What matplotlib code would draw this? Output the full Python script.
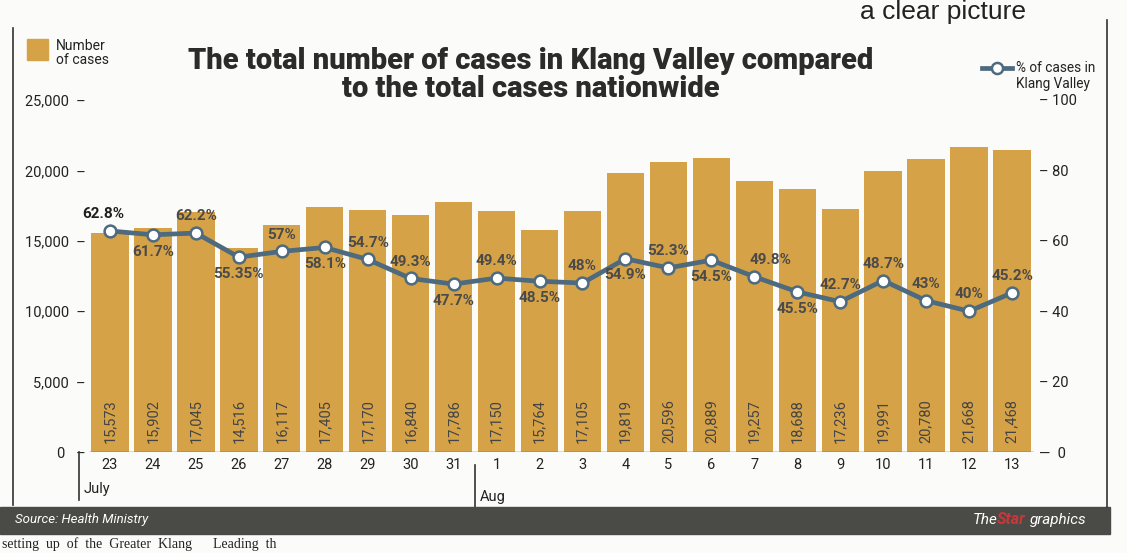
import matplotlib.pyplot as plt
from matplotlib.patches import Rectangle
from matplotlib.lines import Line2D

# Data
days = ["23", "24", "25", "26", "27", "28", "29", "30", "31",
        "1", "2", "3", "4", "5", "6", "7", "8", "9", "10", "11", "12", "13"]
cases = [15573, 15902, 17045, 14516, 16117, 17405, 17170, 16840, 17786,
         17150, 15764, 17105, 19819, 20596, 20889, 19257, 18688, 17236,
         19991, 20780, 21668, 21468]
pct = [62.8, 61.7, 62.2, 55.35, 57, 58.1, 54.7, 49.3, 47.7, 49.4, 48.5,
       48, 54.9, 52.3, 54.5, 49.8, 45.5, 42.7, 48.7, 43, 40, 45.2]
pct_labels = ["62.8%", "61.7%", "62.2%", "55.35%", "57%", "58.1%", "54.7%",
              "49.3%", "47.7%", "49.4%", "48.5%", "48%", "54.9%", "52.3%",
              "54.5%", "49.8%", "45.5%", "42.7%", "48.7%", "43%", "40%", "45.2%"]

# label placement: a = above, b = below
label_side = "abababaabababababaaaaa"

BAR = "#d6a247"
LINE = "#4d6a7e"
BG = "#fbfbf9"
W, H = 1127, 553


def fx(px):
    return px / W


def fy(py):
    return 1 - py / H


fig = plt.figure(figsize=(W / 100, H / 100), dpi=100, facecolor=BG)
plt.rcParams["font.family"] = ["Roboto", "DejaVu Sans"]

ax = fig.add_axes([fx(88.5), fy(452), fx(945), 352 / H])
ax.set_facecolor("none")
x = list(range(len(cases)))
ax.bar(x, cases, width=0.87, color=BAR, edgecolor="none", zorder=1)
ax.set_xlim(-0.5, len(cases) - 0.5)
ax.set_ylim(0, 25000)
for s in ax.spines.values():
    s.set_visible(False)
ax.axhline(0, color="#555555", lw=1.0, zorder=3)

ax.set_yticks([0, 5000, 10000, 15000, 20000, 25000])
ax.set_yticklabels(["0   –", "5,000  –", "10,000  –", "15,000  –",
                    "20,000  –", "25,000  –"], fontsize=10.5, color="#222222")
ax.tick_params(axis="y", length=0, pad=2)
ax.set_xticks(x)
ax.set_xticklabels(days, fontsize=10.5, color="#222222")
ax.tick_params(axis="x", length=0, pad=4)

# bar values
for xi, v in zip(x, cases):
    ax.text(xi, 650, f"{v:,}", rotation=90, ha="center", va="bottom",
            fontsize=10.5, color="#444444", zorder=4)

# month separators
ax.plot([-0.72, -0.72], [0, -3400], color="#333333", lw=1.2, clip_on=False)
ax.plot([8.5, 8.5], [-900, -4000], color="#333333", lw=1.2, clip_on=False)
ax.text(-0.62, -2600, "July", fontsize=10.5, color="#222222", va="center")
ax.text(8.6, -3200, "Aug", fontsize=10.5, color="#222222", va="center")

# percentage line
ax2 = ax.twinx()
ax2.set_ylim(0, 100)
for s in ax2.spines.values():
    s.set_visible(False)
ax2.set_yticks([0, 20, 40, 60, 80, 100])
ax2.set_yticklabels(["—  0", "– 20", "– 40", "– 60", "– 80", "– 100"],
                    fontsize=10.5, color="#222222")
ax2.tick_params(axis="y", length=0, pad=4)
ax2.plot(x, pct, color=LINE, lw=3.4, marker="o", ms=8.5,
         mfc="white", mec=LINE, mew=1.8, zorder=5)
for xi, p, lab, side in zip(x, pct, pct_labels, label_side):
    dx = 0
    if xi == 0:
        dx = -5
    if lab == "49.8%":
        dx = 12
    if side == "a":
        ax2.annotate(lab, (xi, p), xytext=(dx, 7), textcoords="offset points",
                     ha="center", va="bottom", fontsize=11, fontweight="bold",
                     color="#1e1e1e" if xi == 0 else "#4a4a4a", zorder=6)
    else:
        ax2.annotate(lab, (xi, p), xytext=(dx, -7), textcoords="offset points",
                     ha="center", va="top", fontsize=11, fontweight="bold",
                     color="#4a4a4a", zorder=6)

# title
fig.text(fx(531), fy(75), "The total number of cases in Klang Valley compared\n"
         "to the total cases nationwide", ha="center", va="center",
         fontsize=21, fontweight="black", family="Roboto",
         color="#2b2b2b", linespacing=1.0)

# left legend
fig.patches.append(Rectangle((fx(27), fy(60)), fx(21), 21 / H,
                             transform=fig.transFigure, color=BAR))
fig.text(fx(56), fy(53), "Number\nof cases", fontsize=10, color="#222222",
         va="center", linespacing=1.0)

# right legend
fig.lines.append(Line2D([fx(982), fx(1012)], [fy(68), fy(68)],
                        transform=fig.transFigure, color=LINE, lw=3.4))
fig.lines.append(Line2D([fx(997)], [fy(68)], transform=fig.transFigure,
                        marker="o", ms=8, mfc="white", mec=LINE, mew=1.8,
                        color=LINE))
fig.text(fx(1016), fy(76), "% of cases in\nKlang Valley", fontsize=9.8,
         color="#222222", va="center", linespacing=1.1)

# frame lines
fig.lines.append(Line2D([fx(13), fx(13)], [fy(28), fy(505)],
                        transform=fig.transFigure, color="#333333", lw=1.2))
fig.lines.append(Line2D([fx(1107), fx(1107)], [fy(20), fy(507)],
                        transform=fig.transFigure, color="#333333", lw=1.2))

# footer band
fig.patches.append(Rectangle((0, fy(534)), fx(1110), 27 / H,
                             transform=fig.transFigure, color="#4a4a46"))
fig.text(fx(15), fy(520), "Source: Health Ministry", fontsize=9.5,
         style="italic", color="white", va="center")
fig.text(fx(973), fy(520), "The", fontsize=11, style="italic",
         color="white", va="center")
fig.text(fx(997), fy(520), "Star", fontsize=11.5, style="italic",
         fontweight="bold", color="#c8383a", va="center")
fig.text(fx(1030), fy(520), "graphics", fontsize=11, style="italic",
         color="white", va="center")

# surrounding newspaper text
fig.text(fx(860), fy(12), "a clear picture", fontsize=19, color="#222222",
         va="center", family="Liberation Sans")
fig.text(fx(2), fy(544), "setting  up  of  the  Greater  Klang      Leading  th",
         fontsize=10, color="#222222", va="center", family="Liberation Serif")

fig.savefig("out.png", dpi=100, facecolor=BG)
